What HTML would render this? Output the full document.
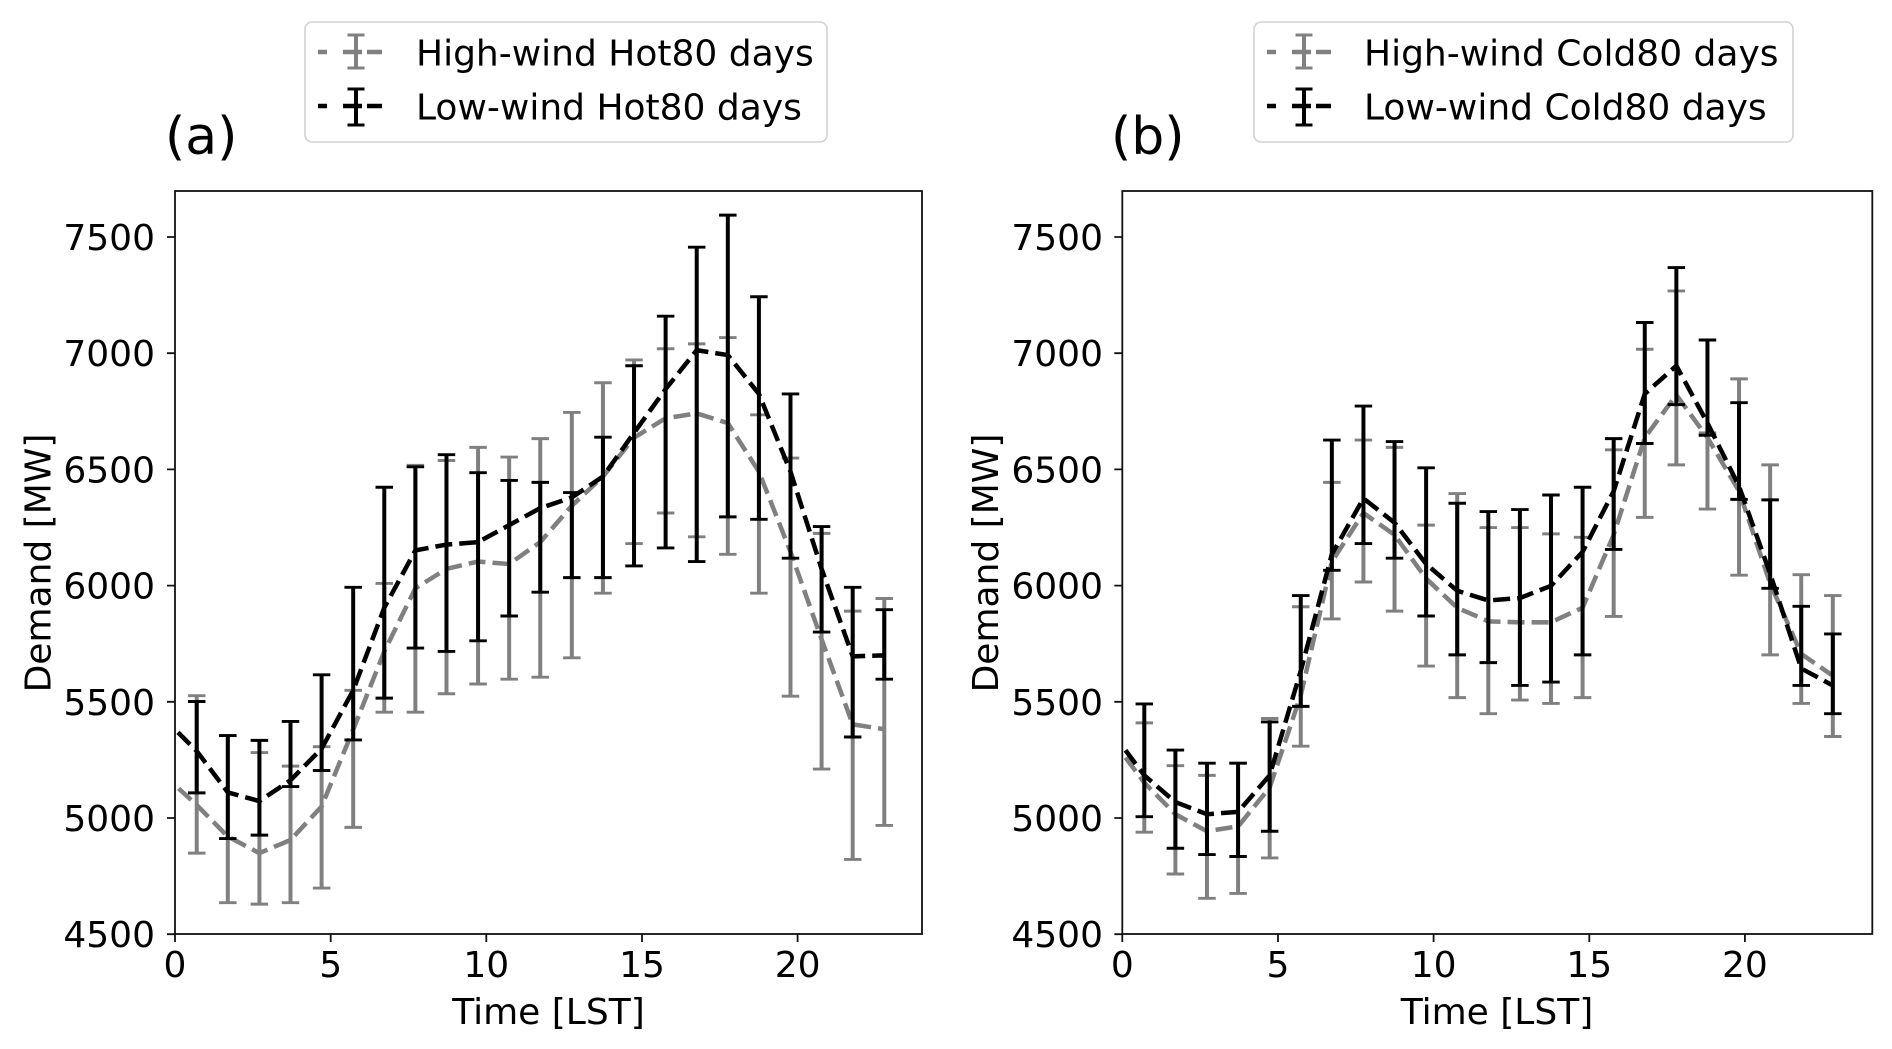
<!DOCTYPE html>
<html>
<head>
<meta charset="utf-8">
<style>
  html,body{margin:0;padding:0;background:#fff;}
  svg{display:block;}
  text{font-family:"DejaVu Sans","Liberation Sans",sans-serif;fill:#000;}
</style>
</head>
<body>
<svg width="1892" height="1049" viewBox="0 0 1892 1049" xmlns="http://www.w3.org/2000/svg">
  <defs>
    <clipPath id="ca"><rect x="175" y="191" width="747" height="743"/></clipPath>
    <clipPath id="cb"><rect x="1122.3" y="191" width="750" height="743"/></clipPath>
  </defs>
  <rect width="1892" height="1049" fill="#fff"/>

  <!-- ================= PANEL A ================= -->
  <g clip-path="url(#ca)">
    <g transform="translate(170,185) scale(0.4859)">
      <!-- gray errorbars -->
      <path fill="none" stroke="#808080" stroke-width="8.2" d="M55 1051V1375 M119 1133V1477 M184 1168V1480 M248 1196V1477 M312 1156V1447 M377 1040V1322 M441 820V1085 M505 577V1085 M569 567V1047 M634 540V1027 M698 560V1017 M762 522V1013 M827 468V973 M891 407V840 M955 360V738 M1020 337V675 M1084 327V724 M1148 314V760 M1212 473V840 M1277 562V1052 M1341 717V1202 M1405 877V1388 M1470 851V1318"/>
      <path fill="none" stroke="#808080" stroke-width="6" d="M37 1051h36M37 1375h36 M101 1133h36M101 1477h36 M166 1168h36M166 1480h36 M230 1196h36M230 1477h36 M294 1156h36M294 1447h36 M359 1040h36M359 1322h36 M423 820h36M423 1085h36 M487 577h36M487 1085h36 M551 567h36M551 1047h36 M616 540h36M616 1027h36 M680 560h36M680 1017h36 M744 522h36M744 1013h36 M809 468h36M809 973h36 M873 407h36M873 840h36 M937 360h36M937 738h36 M1002 337h36M1002 675h36 M1066 327h36M1066 724h36 M1130 314h36M1130 760h36 M1194 473h36M1194 840h36 M1259 562h36M1259 1052h36 M1323 717h36M1323 1202h36 M1387 877h36M1387 1388h36 M1452 851h36M1452 1318h36"/>
      <!-- gray line -->
      <polyline fill="none" stroke="#808080" stroke-width="9.3" stroke-dasharray="35 14.5" points="-20,1210 10,1235 55,1276 119,1341 184,1375 248,1348 312,1279 377,1121 441,960 505,830 569,790 634,775 698,780 762,735 827,660 891,600 955,520 1020,480 1084,470 1148,490 1212,590 1277,755 1341,935 1405,1110 1470,1120"/>
      <!-- black errorbars -->
      <path fill="none" stroke="#000" stroke-width="8.2" d="M55 1063V1251 M119 1133V1345 M184 1143V1338 M248 1104V1238 M312 1008V1205 M377 828V1142 M441 622V1056 M505 580V953 M569 555V960 M634 592V938 M698 608V887 M762 612V838 M827 633V808 M891 519V808 M955 372V784 M1020 270V747 M1084 128V775 M1148 62V683 M1212 230V688 M1277 430V768 M1341 703V920 M1405 828V1136 M1470 874V1017"/>
      <path fill="none" stroke="#000" stroke-width="6" d="M37 1063h36M37 1251h36 M101 1133h36M101 1345h36 M166 1143h36M166 1338h36 M230 1104h36M230 1238h36 M294 1008h36M294 1205h36 M359 828h36M359 1142h36 M423 622h36M423 1056h36 M487 580h36M487 953h36 M551 555h36M551 960h36 M616 592h36M616 938h36 M680 608h36M680 887h36 M744 612h36M744 838h36 M809 633h36M809 808h36 M873 519h36M873 808h36 M937 372h36M937 784h36 M1002 270h36M1002 747h36 M1066 128h36M1066 775h36 M1130 62h36M1130 683h36 M1194 230h36M1194 688h36 M1259 430h36M1259 768h36 M1323 703h36M1323 920h36 M1387 828h36M1387 1136h36 M1452 874h36M1452 1017h36"/>
      <!-- black line -->
      <polyline fill="none" stroke="#000" stroke-width="9.3" stroke-dasharray="35 14.5" points="-20,1093 10,1120 55,1165 119,1250 184,1268 248,1225 312,1160 377,1040 441,870 505,752 569,740 634,735 698,700 762,665 827,643 891,600 955,510 1020,420 1084,340 1148,350 1212,430 1277,590 1341,790 1405,970 1470,968"/>
    </g>
  </g>
  <!-- frame a -->
  <rect x="175" y="191" width="747" height="743" fill="none" stroke="#111" stroke-width="1.8"/>
  <!-- ticks a -->
  <path stroke="#111" stroke-width="1.8" d="M175 934v8 M330.7 934v8 M486.3 934v8 M642 934v8 M797.6 934v8 M175 237h-8 M175 353.2h-8 M175 469.4h-8 M175 585.6h-8 M175 701.8h-8 M175 818h-8 M175 934.2h-8"/>
  <g font-size="36" text-anchor="end">
    <text x="155" y="250">7500</text>
    <text x="155" y="366.2">7000</text>
    <text x="155" y="482.4">6500</text>
    <text x="155" y="598.6">6000</text>
    <text x="155" y="714.8">5500</text>
    <text x="155" y="831">5000</text>
    <text x="155" y="947.2">4500</text>
  </g>
  <g font-size="36" text-anchor="middle">
    <text x="175" y="977">0</text>
    <text x="330.7" y="977">5</text>
    <text x="486.3" y="977">10</text>
    <text x="642" y="977">15</text>
    <text x="797.6" y="977">20</text>
    <text x="548.5" y="1024">Time [LST]</text>
    <text transform="translate(50.5,563) rotate(-90)" x="0" y="0">Demand [MW]</text>
  </g>
  <text x="165" y="154" font-size="52">(a)</text>

  <!-- legend a -->
  <rect x="305" y="22" width="522" height="120" rx="7" ry="7" fill="#fff" stroke="#d2d2d2" stroke-width="1.6"/>
  <g stroke="#808080">
    <path stroke-width="4.5" d="M318 52h9 M343 52h19 M367 52h15"/>
    <path stroke-width="4" d="M356 35V68"/>
    <path stroke-width="3" d="M347.5 35h17 M347.5 68h17"/>
  </g>
  <g stroke="#000">
    <path stroke-width="4.5" d="M318 106h9 M343 106h19 M367 106h15"/>
    <path stroke-width="4" d="M356 89V125"/>
    <path stroke-width="3" d="M347.5 89h17 M347.5 125h17"/>
  </g>
  <text x="416" y="65.5" font-size="36">High-wind Hot80 days</text>
  <text x="416" y="119.5" font-size="36">Low-wind Hot80 days</text>

  <!-- ================= PANEL B ================= -->
  <g clip-path="url(#cb)">
    <g transform="translate(1120,185) scale(0.4859)">
      <!-- gray errorbars -->
      <path fill="none" stroke="#808080" stroke-width="8.2" d="M50 1107V1332 M114 1195V1418 M179 1215V1468 M243 1190V1458 M308 1098V1385 M372 868V1155 M436 612V893 M501 525V817 M565 540V877 M630 700V990 M694 635V1055 M758 705V1088 M823 705V1060 M887 718V1067 M952 725V1055 M1016 545V888 M1080 338V684 M1145 218V576 M1209 510V667 M1274 399V803 M1338 576V967 M1402 802V1067 M1467 845V1135"/>
      <path fill="none" stroke="#808080" stroke-width="6" d="M32 1107h36M32 1332h36 M96 1195h36M96 1418h36 M161 1215h36M161 1468h36 M225 1190h36M225 1458h36 M290 1098h36M290 1385h36 M354 868h36M354 1155h36 M418 612h36M418 893h36 M483 525h36M483 817h36 M547 540h36M547 877h36 M612 700h36M612 990h36 M676 635h36M676 1055h36 M740 705h36M740 1088h36 M805 705h36M805 1060h36 M869 718h36M869 1067h36 M934 725h36M934 1055h36 M998 545h36M998 888h36 M1062 338h36M1062 684h36 M1127 218h36M1127 576h36 M1191 510h36M1191 667h36 M1256 399h36M1256 803h36 M1320 576h36M1320 967h36 M1384 802h36M1384 1067h36 M1449 845h36M1449 1135h36"/>
      <!-- gray line -->
      <polyline fill="none" stroke="#808080" stroke-width="9.3" stroke-dasharray="35 14.5" points="-20,1140 5,1170 50,1230 114,1295 179,1330 243,1320 308,1240 372,1050 436,775 501,675 565,720 630,810 694,870 758,898 823,900 887,900 952,870 1016,720 1080,520 1145,432 1209,520 1274,630 1338,820 1402,965 1467,1010"/>
      <!-- black errorbars -->
      <path fill="none" stroke="#000" stroke-width="8.2" d="M50 1068V1300 M114 1163V1365 M179 1190V1378 M243 1190V1382 M308 1105V1330 M372 845V1073 M436 525V793 M501 455V738 M565 528V768 M630 582V887 M694 655V967 M758 672V983 M823 668V1030 M887 638V1023 M952 622V967 M1016 522V750 M1080 283V532 M1145 170V452 M1209 319V515 M1274 448V647 M1338 648V830 M1402 867V1030 M1467 924V1088"/>
      <path fill="none" stroke="#000" stroke-width="6" d="M32 1068h36M32 1300h36 M96 1163h36M96 1365h36 M161 1190h36M161 1378h36 M225 1190h36M225 1382h36 M290 1105h36M290 1330h36 M354 845h36M354 1073h36 M418 525h36M418 793h36 M483 455h36M483 738h36 M547 528h36M547 768h36 M612 582h36M612 887h36 M676 655h36M676 967h36 M740 672h36M740 983h36 M805 668h36M805 1030h36 M869 638h36M869 1023h36 M934 622h36M934 967h36 M998 522h36M998 750h36 M1062 283h36M1062 532h36 M1127 170h36M1127 452h36 M1191 319h36M1191 515h36 M1256 448h36M1256 647h36 M1320 648h36M1320 830h36 M1384 867h36M1384 1030h36 M1449 924h36M1449 1088h36"/>
      <!-- black line -->
      <polyline fill="none" stroke="#000" stroke-width="9.3" stroke-dasharray="35 14.5" points="-20,1125 5,1155 50,1215 114,1270 179,1295 243,1290 308,1215 372,1000 436,760 501,645 565,695 630,780 694,835 758,855 823,850 887,825 952,755 1016,630 1080,430 1145,372 1209,490 1274,620 1338,800 1402,995 1467,1030"/>
    </g>
  </g>
  <!-- frame b -->
  <rect x="1122.3" y="191" width="750" height="743" fill="none" stroke="#111" stroke-width="1.8"/>
  <path stroke="#111" stroke-width="1.8" d="M1122.3 934v8 M1278 934v8 M1433.6 934v8 M1589.3 934v8 M1744.9 934v8 M1122.3 237h-8 M1122.3 353.2h-8 M1122.3 469.4h-8 M1122.3 585.6h-8 M1122.3 701.8h-8 M1122.3 818h-8 M1122.3 934.2h-8"/>
  <g font-size="36" text-anchor="end">
    <text x="1103" y="250">7500</text>
    <text x="1103" y="366.2">7000</text>
    <text x="1103" y="482.4">6500</text>
    <text x="1103" y="598.6">6000</text>
    <text x="1103" y="714.8">5500</text>
    <text x="1103" y="831">5000</text>
    <text x="1103" y="947.2">4500</text>
  </g>
  <g font-size="36" text-anchor="middle">
    <text x="1122.3" y="977">0</text>
    <text x="1278" y="977">5</text>
    <text x="1433.6" y="977">10</text>
    <text x="1589.3" y="977">15</text>
    <text x="1744.9" y="977">20</text>
    <text x="1497" y="1024">Time [LST]</text>
    <text transform="translate(998,563) rotate(-90)" x="0" y="0">Demand [MW]</text>
  </g>
  <text x="1111" y="154" font-size="52">(b)</text>

  <!-- legend b -->
  <rect x="1254" y="22" width="539" height="120" rx="7" ry="7" fill="#fff" stroke="#d2d2d2" stroke-width="1.6"/>
  <g stroke="#808080">
    <path stroke-width="4.5" d="M1267 52h9 M1292 52h19 M1316 52h15"/>
    <path stroke-width="4" d="M1304 35V68"/>
    <path stroke-width="3" d="M1295.5 35h17 M1295.5 68h17"/>
  </g>
  <g stroke="#000">
    <path stroke-width="4.5" d="M1267 106h9 M1292 106h19 M1316 106h15"/>
    <path stroke-width="4" d="M1304 89V125"/>
    <path stroke-width="3" d="M1295.5 89h17 M1295.5 125h17"/>
  </g>
  <text x="1364" y="65.5" font-size="36">High-wind Cold80 days</text>
  <text x="1364" y="119.5" font-size="36">Low-wind Cold80 days</text>
</svg>
</body>
</html>
